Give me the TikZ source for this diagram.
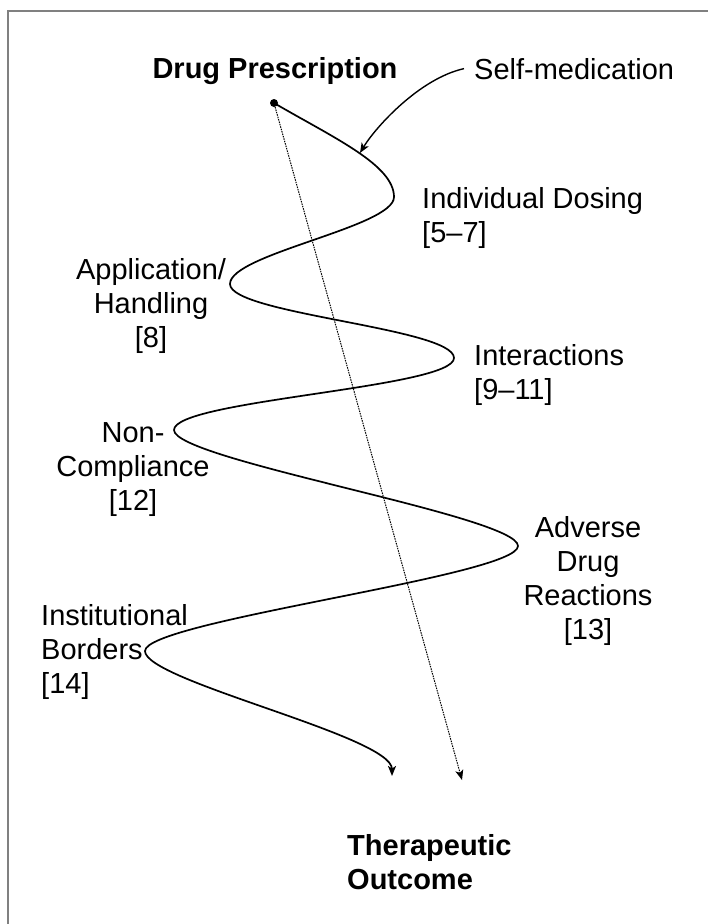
\documentclass[tikz,border=0pt]{standalone}
\usepackage{fontspec}
\setmainfont{Liberation Sans}
\usetikzlibrary{positioning, arrows.meta}

\begin{document}
\begin{tikzpicture}[
					x=1pt, y=-1pt,
					stage/.style={font=\fontsize{29}{34}\selectfont, inner sep=0pt},
					heading/.style={stage, font=\fontsize{29}{34}\selectfont\bfseries},
					wave/.style={line width=1.7pt},
					tip/.style={-{Stealth[length=10pt, width=8pt, inset=2.5pt]}}
					]
					\useasboundingbox (0,0) rectangle (708,924);
					\draw[gray, line width=2pt] (8,11) rectangle (760,980);
					\node[heading, anchor=base] (DrugPrescription) at (275,78) {Drug Prescription};
					\node[stage, anchor=base west] (SelfMedication) at (474,79) {Self-medication};
					\node[circle, fill, inner sep=0pt, minimum size=8pt] (Origin) at (274,103) {};
					\node[stage, align=left, anchor=base west] (IndividualDosing) at (422,242) {Individual Dosing\\{[5–7]}};
					\node[stage, align=center, anchor=base] (Application) at (151,347) {Application/\\Handling\\{[8]}};
					\node[stage, align=left, anchor=base west] (Interactions) at (474,399) {Interactions\\{[9–11]}};
					\node[stage, align=center, anchor=base] (NonCompliance) at (133,510) {Non-\\Compliance\\{[12]}};
					\node[stage, align=center, anchor=base] (AdverseReactions) at (588,639) {Adverse\\Drug\\Reactions\\{[13]}};
					\node[stage, align=left, anchor=base west] (Institutional) at (41,693) {Institutional\\Borders\\{[14]}};
					\node[heading, align=left, anchor=base west] (TherapeuticOutcome) at (347,889) {Therapeutic\\Outcome};
					\coordinate (Dosing) at (394,197);
					\coordinate (Handling) at (230,284);
					\coordinate (Interaction) at (454,358);
					\coordinate (Compliance) at (174,430);
					\coordinate (Reaction) at (518,546);
					\coordinate (Border) at (145,651);
					\coordinate (End) at (392,776);
					\coordinate (DotEnd) at (462,780);
					\coordinate (Hit) at (360,153);
					\draw[wave, tip] (Origin.center) .. controls +(60,35) and +(0,-32) .. (Dosing)
						.. controls +(0,30) and +(0,-30) .. (Handling)
						.. controls +(0,30) and +(0,-30) .. (Interaction)
						.. controls +(0,30) and +(0,-30) .. (Compliance)
						.. controls +(0,30) and +(0,-30) .. (Reaction)
						.. controls +(0,30) and +(0,-30) .. (Border)
						.. controls +(0,30) and +(0,-40) .. (End);
					\draw[line width=1.4pt, tip] ([xshift=-10pt]SelfMedication.west) .. controls +(-45,10) and +(15,-25) .. (Hit);
					\draw[line width=1pt, dash pattern=on 1.5pt off 1pt, tip] (Origin) -- (DotEnd);
				\end{tikzpicture}
\end{document}
